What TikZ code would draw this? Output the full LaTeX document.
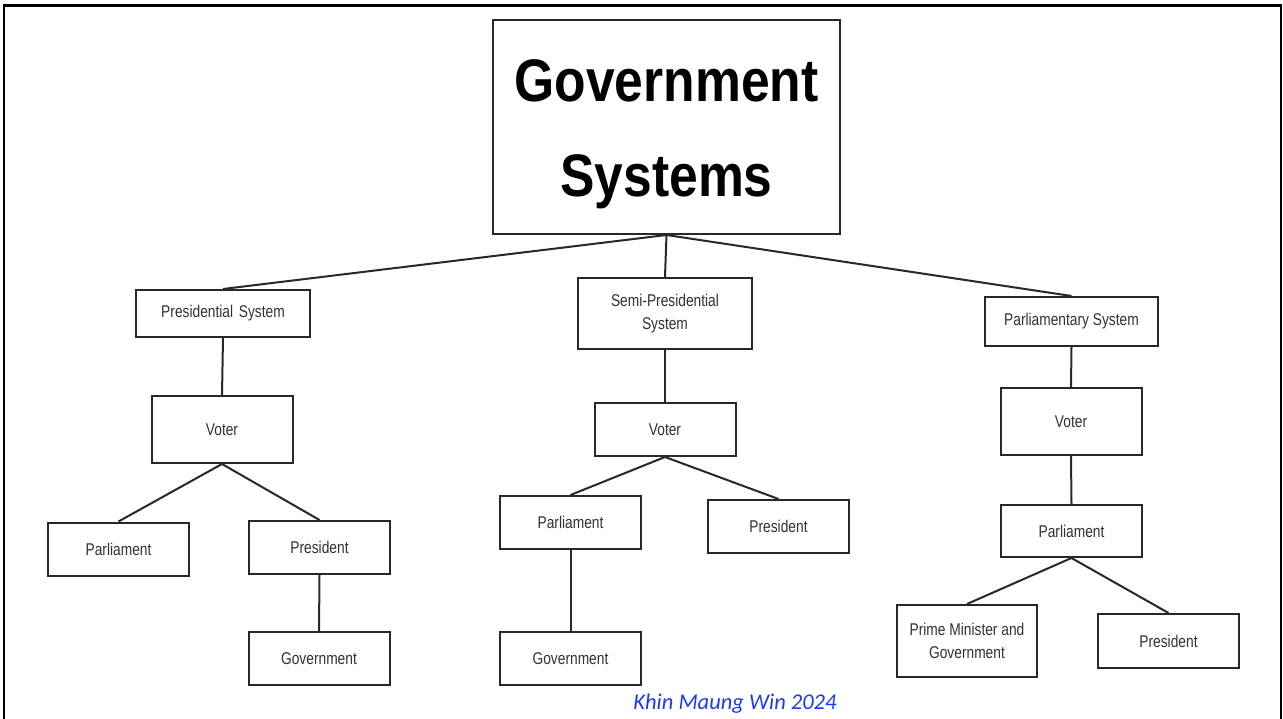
\documentclass[tikz,border=0pt]{standalone}
\usepackage{fontspec}
\setmainfont{Liberation Sans}
\newfontfamily\titlefont[FakeStretch=0.86]{Liberation Sans}
\newfontfamily\boxfont[FakeStretch=0.81]{Liberation Sans}
\newfontfamily\capfont{Carlito}
\definecolor{boxline}{RGB}{40,40,40}
\definecolor{boxtext}{RGB}{50,50,50}
\definecolor{capblue}{RGB}{28,58,250}
\tikzset{
  x=1pt, y=-1pt,
  sbox/.style={draw=boxline, line width=2pt, fill=white, inner sep=0pt,
    minimum width=141pt, minimum height=53pt, align=center,
    text=boxtext, font=\boxfont\fontsize{17}{23}\selectfont},
  titlebox/.style={draw=boxline, line width=2pt, inner sep=0pt,
    minimum width=347pt, minimum height=214pt},
  titletext/.style={inner sep=0pt, align=center, text=black,
    font=\titlefont\bfseries\fontsize{60}{95}\selectfont},
  conn/.style={draw=boxline, line width=2pt},
  frameline/.style={draw=black, line width=2.6pt}
}
\begin{document}
\begin{tikzpicture}
\useasboundingbox[fill=white] (0,0) rectangle (1283,719);
\draw[frameline] (4,740) -- (4,5.5) -- (1281,5.5) -- (1281,740);

% title
\node[titlebox] (gov) at (666.5,127) {};
\node[titletext] (govtext) at (666.5,134) {Government\\Systems};

% level 1
\node[sbox, minimum width=174pt, minimum height=47pt] (pres) at (223,313.5) {Presidential\,\,System};
\node[sbox, minimum width=174pt, minimum height=71pt] (semi) at (665,313.5) {Semi-Presidential\\System};
\node[sbox, minimum width=173pt, minimum height=49pt] (parl) at (1071.5,321.5) {Parliamentary System};

% voters
\node[sbox, minimum height=67pt] (voterL) at (222,429.5) {Voter};
\node[sbox] (voterM) at (665,429.5) {Voter};
\node[sbox, minimum height=67pt] (voterR) at (1071,421.5) {Voter};

% left branch
\node[sbox] (parlL) at (118.5,549) {Parliament};
\node[sbox] (presL) at (319.5,547.5) {President};
\node[sbox] (govL) at (319,658.5) {Government};

% middle branch
\node[sbox] (parlM) at (570.5,522.5) {Parliament};
\node[sbox] (presM) at (778.5,526.5) {President};
\node[sbox] (govM) at (570.5,658.5) {Government};

% right branch
\node[sbox, minimum height=52pt] (parlR) at (1071.5,531) {Parliament};
\node[sbox, minimum width=140pt, minimum height=72pt] (pm) at (967,641) {Prime Minister and\\Government};
\node[sbox, minimum height=54pt] (presR) at (1168.5,641) {President};

% connectors
\draw[conn] (gov.south) -- (pres.north);
\draw[conn] (gov.south) -- (semi.north);
\draw[conn] (gov.south) -- (parl.north);
\draw[conn] (pres.south) -- (voterL.north);
\draw[conn] (voterL.south) -- (parlL.north);
\draw[conn] (voterL.south) -- (presL.north);
\draw[conn] (presL.south) -- (govL.north);
\draw[conn] (semi.south) -- (voterM.north);
\draw[conn] (voterM.south) -- (parlM.north);
\draw[conn] (voterM.south) -- (presM.north);
\draw[conn] (parlM.south) -- (govM.north);
\draw[conn] (parl.south) -- (voterR.north);
\draw[conn] (voterR.south) -- (parlR.north);
\draw[conn] (parlR.south) -- (pm.north);
\draw[conn] (parlR.south) -- (presR.north);

% caption
\node[inner sep=0pt, text=capblue, font=\capfont\itshape\fontsize{22.5}{26}\selectfont] (caption) at (735,704) {Khin Maung Win 2024};
\end{tikzpicture}
\end{document}
